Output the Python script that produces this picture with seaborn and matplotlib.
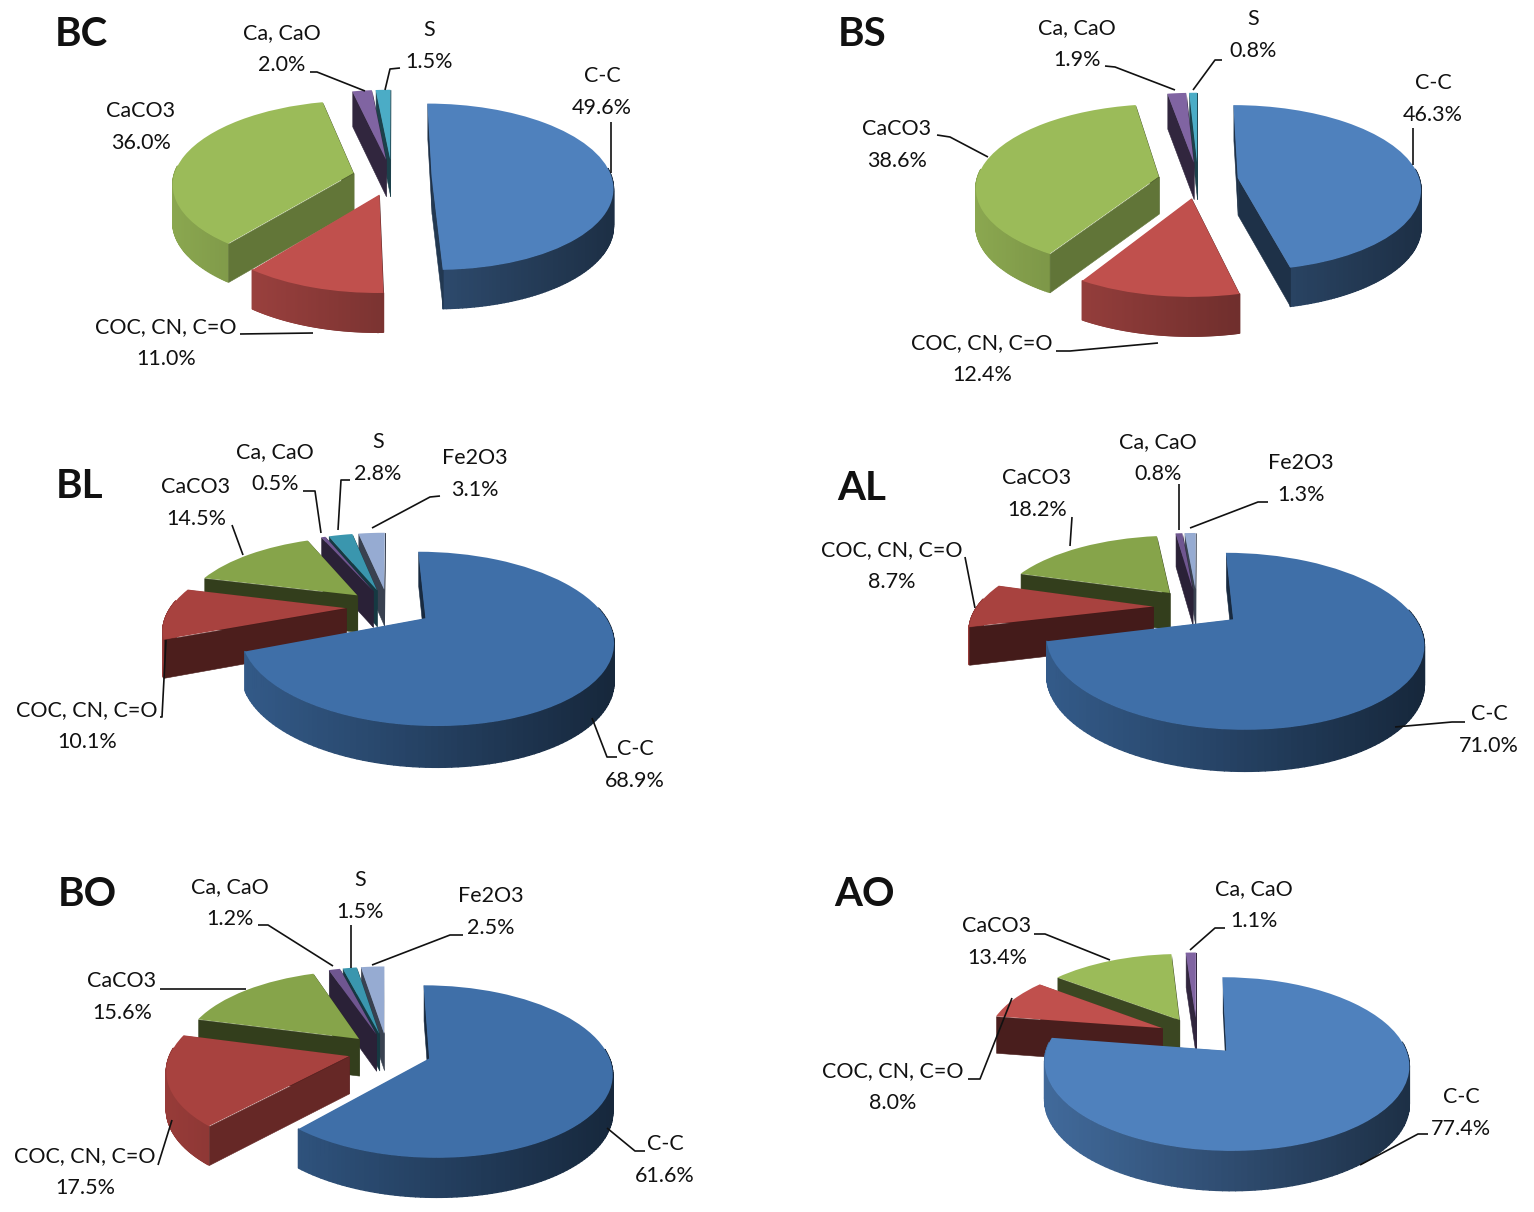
import numpy as np
import matplotlib
matplotlib.use("Agg")
import matplotlib.pyplot as plt
import seaborn as sns
from matplotlib.collections import PolyCollection
from matplotlib.colors import to_rgb
from matplotlib.transforms import Transform

sns.set_theme(style="white")
plt.rcParams["font.family"] = ["Lato", "DejaVu Sans"]

# ---------- data ----------
names_bc = ["C-C", "COC, CN, C=O", "CaCO3", "Ca, CaO", "S"]
values_bc = [49.6, 11.0, 36.0, 2.0, 1.5]
names_bs = ["C-C", "COC, CN, C=O", "CaCO3", "Ca, CaO", "S"]
values_bs = [46.3, 12.4, 38.6, 1.9, 0.8]
names_bl = ["C-C", "COC, CN, C=O", "CaCO3", "Ca, CaO", "S", "Fe2O3"]
values_bl = [68.9, 10.1, 14.5, 0.5, 2.8, 3.1]
names_al = ["C-C", "COC, CN, C=O", "CaCO3", "Ca, CaO", "Fe2O3"]
values_al = [71.0, 8.7, 18.2, 0.8, 1.3]
names_bo = ["C-C", "COC, CN, C=O", "CaCO3", "Ca, CaO", "S", "Fe2O3"]
values_bo = [61.6, 17.5, 15.6, 1.2, 1.5, 2.5]
names_ao = ["C-C", "COC, CN, C=O", "CaCO3", "Ca, CaO"]
values_ao = [77.4, 8.0, 13.4, 1.1]

BRIGHT = {"C-C": "#4F81BD", "COC, CN, C=O": "#C0504D", "CaCO3": "#9BBB59",
          "Ca, CaO": "#8064A2", "S": "#4BACC6", "Fe2O3": "#9DB2D9"}
MUTED = {"C-C": "#3F6FA8", "COC, CN, C=O": "#A8423F", "CaCO3": "#86A44A",
         "Ca, CaO": "#6F5690", "S": "#3A96AE", "Fe2O3": "#96ABD2"}

# layout of each panel (pixels of the figure)
panels = [
    dict(title="BC", tpos=(81, 34), names=names_bc, values=values_bc, c=(392, 177), s=180, sk=82, p=.12, d=37, e=.22, pal=BRIGHT,
         labels={"C-C": (602, 92), "S": (429, 46), "Ca, CaO": (282, 49), "CaCO3": (141, 127), "COC, CN, C=O": (166, 343)},
         lines=[[(611, 122), (611, 173)], [(400, 68), (390, 69), (385, 90)], [(310, 72), (317, 72), (365, 91)], [(240, 334), (313, 333)]]),
    dict(title="BS", tpos=(862, 34), names=names_bs, values=values_bs, c=(1198, 180), s=182, sk=82, p=.12, d=37, e=.22, pal=BRIGHT,
         labels={"C-C": (1433, 99), "S": (1253, 35), "Ca, CaO": (1077, 44), "CaCO3": (897, 145), "COC, CN, C=O": (982, 359)},
         lines=[[(1413, 128), (1413, 165)], [(1222, 60), (1215, 60), (1193, 90)], [(1105, 66), (1115, 67), (1175, 90)],
                [(937, 135), (950, 137), (988, 157)], [(1056, 351), (1070, 351), (1158, 343)]]),
    dict(title="BL", tpos=(80, 486), names=names_bl, values=values_bl, c=(388, 607), s=175, sk=77, p=.23, d=37, e=.24, ecc=.25, pal=MUTED,
         labels={"C-C": (635, 765), "S": (378, 458), "Ca, CaO": (275, 468), "CaCO3": (196, 503), "Fe2O3": (475, 474), "COC, CN, C=O": (87, 726)},
         lines=[[(592, 718), (607, 757), (617, 757)], [(350, 480), (341, 480), (338, 530)], [(303, 491), (315, 491), (321, 533)],
                [(232, 525), (243, 555)], [(440, 496), (430, 497), (372, 528)], [(160, 717), (162, 717), (166, 640)]]),
    dict(title="AL", tpos=(862, 488), names=names_al, values=values_al, c=(1197, 607), s=176, sk=77, p=.24, d=37, e=.25, pal=MUTED,
         labels={"C-C": (1489, 730), "Ca, CaO": (1158, 458), "Fe2O3": (1301, 479), "CaCO3": (1037, 494), "COC, CN, C=O": (892, 566)},
         lines=[[(1465, 722), (1452, 722), (1395, 727)], [(1179, 484), (1179, 530)], [(1268, 502), (1258, 502), (1190, 528)],
                [(1072, 517), (1070, 546)], [(965, 557), (975, 608)]]),
    dict(title="BO", tpos=(87, 894), names=names_bo, values=values_bo, c=(387, 1051), s=178, sk=82, p=.15, d=37, e=.22, ecc=.25, pal=MUTED,
         labels={"C-C": (665, 1160), "S": (360, 896), "Ca, CaO": (230, 903), "CaCO3": (122, 997), "Fe2O3": (491, 912), "COC, CN, C=O": (85, 1172)},
         lines=[[(607, 1128), (635, 1151), (645, 1151)], [(351, 925), (351, 968)], [(258, 925), (268, 925), (333, 966)],
                [(160, 989), (246, 989)], [(463, 935), (450, 935), (372, 965)], [(158, 1165), (172, 1120)]]),
    dict(title="AO", tpos=(864, 895), names=names_ao, values=values_ao, c=(1197, 1035), s=175, sk=80, p=.15, d=37, e=.22, ecc=.25, pal=BRIGHT,
         labels={"C-C": (1461, 1113), "Ca, CaO": (1254, 905), "CaCO3": (997, 942), "COC, CN, C=O": (893, 1087)},
         lines=[[(1428, 1134), (1418, 1134), (1360, 1165)], [(1225, 928), (1215, 928), (1190, 950)], [(1034, 934), (1045, 934), (1110, 960)],
                [(968, 1079), (980, 1079), (1012, 998)]]),
]


def project(xy, cx, cy, s, sk, p, z=0.0):
    xy = np.asarray(xy, dtype=float)
    w = 1 + p * xy[:, 1]
    return np.column_stack([cx + s * xy[:, 0] / w,
                            cy - sk * xy[:, 1] / w + z / (1 + .4 * p * xy[:, 1])])


class Project(Transform):
    input_dims = output_dims = 2
    is_separable = False
    has_inverse = False

    def __init__(self, *args):
        super().__init__()
        self.args = args

    def transform_non_affine(self, xy):
        return project(xy, *self.args)


def shade(color, f):
    return tuple(np.array(to_rgb(color)) * f)


fig = plt.figure(figsize=(15.34, 12.12), dpi=100, facecolor="white")
ax = fig.add_axes([0, 0, 1, 1])

for panel in panels:
    cx, cy = panel["c"]
    args = (cx, cy, panel["s"], panel["sk"], panel["p"])
    names, values = panel["names"], panel["values"]
    explode = [panel.get("ecc", panel["e"])] + [panel["e"]] * (len(names) - 1)
    colors = [panel["pal"][n] for n in names]
    wedges, _ = ax.pie(values, explode=explode, colors=colors, startangle=90, counterclock=False,
                       wedgeprops=dict(linewidth=0))
    d = panel["d"]
    n = len(wedges)
    for i, (wedge, name, col) in enumerate(zip(wedges, names, colors)):
        rank = (n - i) * 10            # later wedges sit behind the first, large one
        wedge.set_transform(Project(*args) + ax.transData)
        wedge.set_zorder(rank + 5)
        centre = np.array(wedge.center)
        th = np.radians(np.linspace(wedge.theta1, wedge.theta2, 160))
        arc = centre + wedge.r * np.column_stack([np.cos(th), np.sin(th)])
        top = project(arc, *args)
        bot = project(arc, *args, z=d)
        # outer wall: a smooth left-to-right shading, front part only
        grad = sns.blend_palette([shade(col, .9), shade(col, .36)], 256)
        span = 2.5 * panel["s"]
        quads, fc = [], []
        for j in range(len(arc) - 1):
            if np.sin(th[j]) > .1:
                continue
            quads.append([top[j], top[j + 1], bot[j + 1], bot[j]])
            t = np.clip((top[j, 0] - (cx - span / 2)) / span, 0, 1)
            fc.append(grad[int(t * 255)])
        if quads:
            wall = PolyCollection(quads, facecolors=fc, edgecolors=fc, linewidths=1.0)
            wall.set_zorder(rank + 1)
            ax.add_collection(wall, autolim=False)
        # the two cut faces
        for k, theta in ((0, wedge.theta1), (-1, wedge.theta2)):
            pts = np.array([centre, arc[k]])
            ptop, pbot = project(pts, *args), project(pts, *args, z=d)
            cw = (90 - theta) % 360
            f = float(np.clip(.65 - .006 * abs(cw - 215), .38, .65))
            c = shade(col, f)
            probe = pts.mean(axis=0) + [0, -.02] - centre
            ang = np.degrees(np.arctan2(probe[1], probe[0]))
            back = (ang - wedge.theta1) % 360 <= wedge.theta2 - wedge.theta1
            face = PolyCollection([[ptop[0], ptop[1], pbot[1], pbot[0]]], facecolors=[c], edgecolors=[c],
                                  linewidths=0 if back else .4)
            face.set_zorder(rank + (0 if back else 2))
            ax.add_collection(face, autolim=False)
    # labels
    for name, value in zip(names, values):
        x, y = panel["labels"][name]
        ax.text(x, y, f"{name}\n{value:.1f}%", ha="center", va="center", ma="center",
                fontsize=15.5, color="#111111", linespacing=1.72, zorder=1000)
    for line in panel["lines"]:
        xs, ys = zip(*line)
        ax.plot(xs, ys, color="#111111", lw=1.2, zorder=1001, solid_capstyle="butt")
    ax.text(*panel["tpos"], panel["title"], ha="center", va="center", fontsize=29,
            fontweight="bold", color="#111111", zorder=1000)

ax.set_aspect("auto")
ax.set_xlim(0, 1534)
ax.set_ylim(1212, 0)
ax.set_xticks([])
ax.set_yticks([])
ax.set_frame_on(False)
ax.grid(False)
fig.savefig("out.png", dpi=100, facecolor="white")
